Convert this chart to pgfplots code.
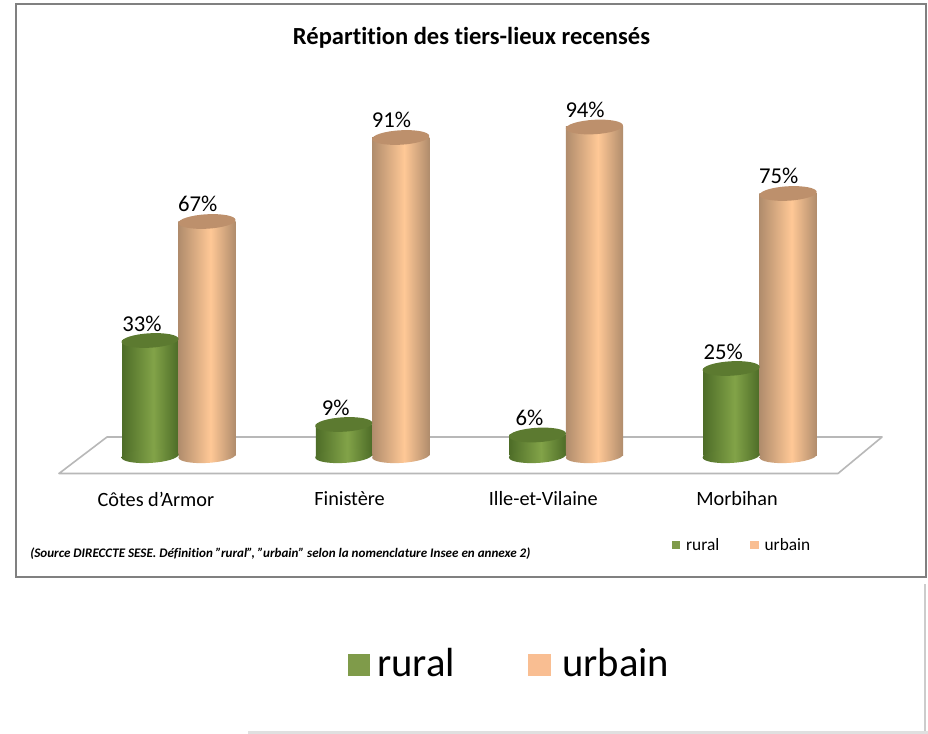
\documentclass[border=0pt]{standalone}
\usepackage{pgfplots}
\usepackage{pgfplotstable}
\pgfplotsset{compat=1.18}
\usepackage{fontspec}
\setmainfont[Ligatures=NoCommon]{Carlito}
\definecolor{gE}{HTML}{4E6D28}
\definecolor{gC}{HTML}{82A348}
\definecolor{gT}{HTML}{5C7A30}
\definecolor{oE}{HTML}{B08C6C}
\definecolor{oC}{HTML}{FFC896}
\definecolor{oT}{HTML}{BD906C}
\definecolor{gL}{HTML}{7F9B4A}
\definecolor{oL}{HTML}{F9BE92}
\pgfdeclarehorizontalshading{gcyl}{100bp}{color(0bp)=(gE); color(25bp)=(gE); color(53bp)=(gC); color(75bp)=(gE); color(100bp)=(gE)}
\pgfdeclarehorizontalshading{ocyl}{100bp}{color(0bp)=(oE); color(25bp)=(oE); color(53bp)=(oC); color(75bp)=(oE); color(100bp)=(oE)}
\pgfdeclareplotmark{celltop}{\pgfpathellipse{\pgfpointorigin}{\pgfpoint{21.4pt}{1.2pt}}{\pgfpoint{-0.3pt}{5.4pt}}\pgfusepathqfill}
\pgfdeclareplotmark{gbot}{\pgfpathellipse{\pgfpointorigin}{\pgfpoint{21.4pt}{1.2pt}}{\pgfpoint{-0.3pt}{5.2pt}}\pgfshadepath{gcyl}{0}\pgfusepath{discard}}
\pgfdeclareplotmark{obot}{\pgfpathellipse{\pgfpointorigin}{\pgfpoint{21.4pt}{1.2pt}}{\pgfpoint{-0.3pt}{5.2pt}}\pgfshadepath{ocyl}{0}\pgfusepath{discard}}
\pgfplotstableread{
i rural urbain
0 33 67
1 9 91
2 6 94
3 25 75
}\data
\pgfplotsset{
  gbar/.style={forget plot,ybar,bar width=0.288,bar shift=0pt,draw=none,shading=gcyl},
  obar/.style={forget plot,ybar,bar width=0.296,bar shift=0pt,draw=none,shading=ocyl},
}
\begin{document}
\begin{tikzpicture}
\begin{scope}[x=0.75pt,y=-0.75pt]
\useasboundingbox (0,0) rectangle (928,734);
\fill[white] (0,0) rectangle (928,734);
\draw[color=black!50,line width=1.5pt] (15.5,4.5) rectangle (925.5,577);
\draw[color=black!20,line width=2.2pt] (925,584) -- (925,733);
\draw[color=black!12,line width=2.2pt] (248,732.5) -- (928,732.5);
\draw[color=black!28,line width=1.2pt,line join=round] (59,473.5) -- (107,437) -- (882,437) -- (838,473.5) -- cycle;
\end{scope}
\begin{axis}[
  at={(0pt,-15pt)},anchor=north west,
  scale only axis,width=696pt,height=348.75pt,
  xmin=-0.9215,xmax=3.869,ymin=-8.29,ymax=124.57,
  axis line style={draw=none},
  major tick length=0pt,
  ytick=\empty,
  xtick={0,1,2,3},
  xticklabels={Côtes d\symbol{39}Armor,Finistère,Ille-et-Vilaine,Morbihan},
  xticklabel style={xshift=-17pt,yshift=-1.5pt,font=\fontsize{15.2}{18}\selectfont},
  /pgf/number format/assume math mode=true,
  clip=false,
  legend columns=2,
  legend style={at={(axis description cs:0.719,-0.13)},anchor=west,draw=none,fill=none,
    font=\fontsize{13}{15}\selectfont,
    /tikz/every even column/.append style={column sep=21pt}},
  legend image code/.code={\fill[#1] (0pt,-3pt) rectangle (6.5pt,3.5pt);\path (9pt,0pt);},
]
\addlegendimage{fill=gL,draw=none}
\addlegendentry{rural}
\addlegendimage{fill=oL,draw=none}
\addlegendentry{urbain}
% rural
\addplot[forget plot,only marks,mark=gbot] table[x expr=\thisrow{i}-0.147,y expr=0] {\data};
\addplot[gbar] coordinates {(-0.147,33)};
\addplot[gbar] coordinates {(0.853,9)};
\addplot[gbar] coordinates {(1.853,6)};
\addplot[gbar] coordinates {(2.853,25)};
\addplot[forget plot,only marks,mark=celltop,mark options={fill=gT,draw=none},
  nodes near coords={\pgfmathprintnumber[fixed,precision=0,assume math mode=true]{\pgfplotspointmeta}\%},point meta=y,
  every node near coord/.style={anchor=center,xshift=-6pt,yshift=12.5pt,text=black,font=\fontsize{17}{19}\selectfont}]
  table[x expr=\thisrow{i}-0.147,y=rural] {\data};
% urbain
\addplot[forget plot,only marks,mark=obot] table[x expr=\thisrow{i}+0.147,y expr=0] {\data};
\addplot[obar] coordinates {(0.147,67)};
\addplot[obar] coordinates {(1.147,91)};
\addplot[obar] coordinates {(2.147,94)};
\addplot[obar] coordinates {(3.147,75)};
\addplot[forget plot,only marks,mark=celltop,mark options={fill=oT,draw=none},
  nodes near coords={\pgfmathprintnumber[fixed,precision=0,assume math mode=true]{\pgfplotspointmeta}\%},point meta=y,
  every node near coord/.style={anchor=center,xshift=-7pt,yshift=13pt,text=black,font=\fontsize{17}{19}\selectfont}]
  table[x expr=\thisrow{i}+0.147,y=urbain] {\data};
\end{axis}
\begin{scope}[x=0.75pt,y=-0.75pt]
\node[anchor=center,font=\bfseries\fontsize{18.4}{21}\selectfont] at (471.5,38) {Répartition des tiers-lieux recensés};
\node[anchor=west,inner sep=0pt,font=\bfseries\itshape\fontsize{9.8}{12}\selectfont] at (30,554) {(Source DIRECCTE SESE. Définition "rural", "urbain" selon la nomenclature Insee en annexe 2)};
\fill[gL] (348,654) rectangle (370,676);
\node[anchor=west,inner sep=0pt,font=\fontsize{30.5}{34}\selectfont] at (377,663) {rural};
\fill[oL] (528,654) rectangle (551,676);
\node[anchor=west,inner sep=0pt,font=\fontsize{30.5}{34}\selectfont] at (562,663) {urbain};
\end{scope}
\end{tikzpicture}
\end{document}
